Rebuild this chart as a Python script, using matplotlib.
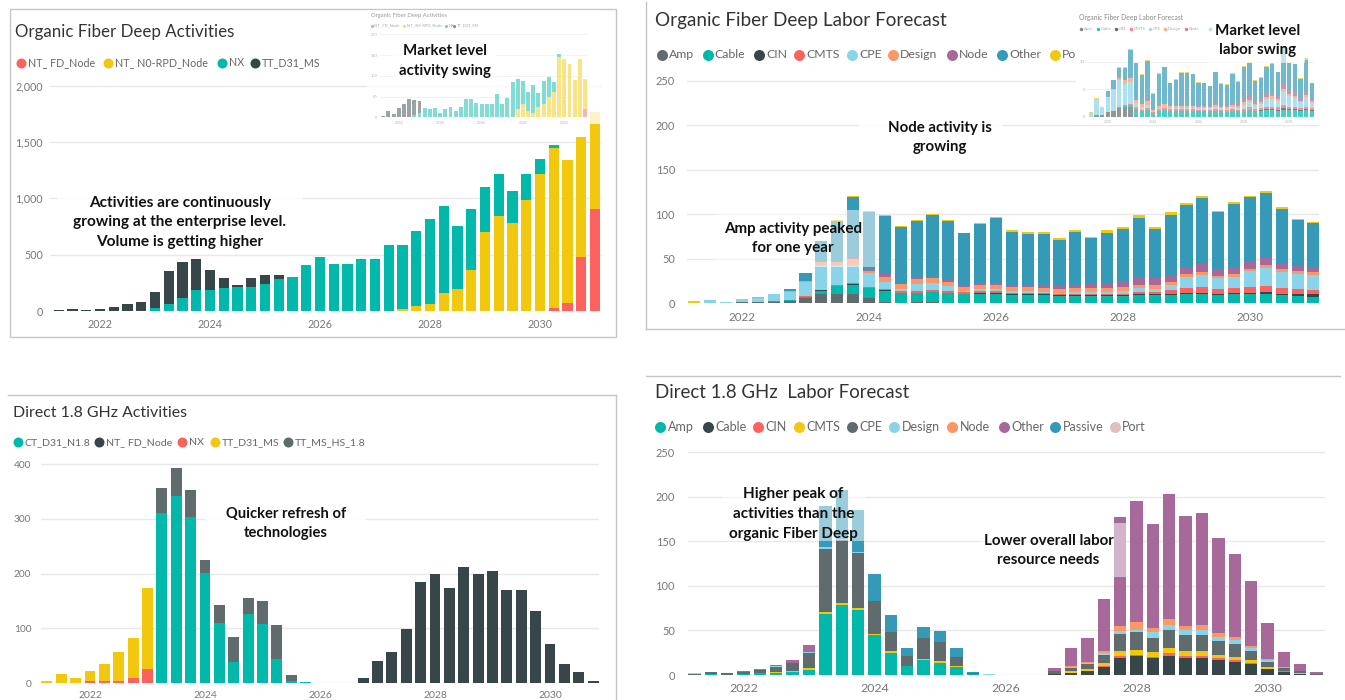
import numpy as np
import matplotlib
matplotlib.use("Agg")
import matplotlib.pyplot as plt
from matplotlib.patches import Rectangle
from matplotlib.lines import Line2D
from matplotlib.font_manager import FontProperties
from matplotlib.colors import to_rgb

# ======================= DATA =======================
def quarters(start_year, start_q, n):
    out = []
    y, q = start_year, start_q
    for _ in range(n):
        out.append(f"{y}-Q{q}")
        q += 1
        if q > 4:
            q = 1
            y += 1
    return out

Q40 = quarters(2021, 2, 40)
Q39 = quarters(2021, 2, 39)
year_ticks = [2022, 2024, 2026, 2028, 2030]

# --- Panel 1: Organic Fiber Deep Activities ---
p1_labels = ["NT_ FD_Node", "NT_ N0-RPD_Node", "NX", "TT_D31_MS"]
p1_nt_fd_node = [0, 0, 0, 0, 0, 0, 0, 0, 0, 0, 0, 0, 0, 0, 0, 0, 0, 0, 0, 0,
                 0, 0, 0, 0, 0, 0, 0, 0, 0, 0, 0, 0, 0, 0, 0, 0, 24, 74, 479, 905]
p1_nt_n0_rpd = [0, 0, 0, 0, 0, 0, 0, 0, 0, 0, 0, 0, 0, 0, 0, 0, 0, 0, 0, 0,
                0, 0, 0, 0, 0, 18, 41, 62, 157, 198, 361, 698, 843, 784, 982, 1219, 1423, 1266, 1068, 864]
p1_nx = [0, 0, 0, 0, 0, 0, 0, 24, 62, 118, 189, 186, 201, 210, 210, 237, 287, 305, 408, 476,
         417, 417, 459, 459, 589, 565, 672, 752, 778, 553, 547, 406, 373, 281, 234, 130, 23, 0, 0, 0]
p1_tt_d31_ms = [5, 15, 9, 20, 32, 59, 83, 148, 293, 314, 270, 181, 95, 21, 86, 83, 30, 0, 0, 0,
                0, 0, 0, 0, 0, 0, 0, 0, 0, 0, 0, 0, 0, 0, 0, 0, 0, 0, 0, 0]

# inset of panel 1 (market level)
in1_nt_fd_node = [0, 0, 0, 0, 0, 0, 0, 0, 0, 0, 0, 0, 0, 0, 0, 0, 0, 0, 0, 0,
                  0, 0, 0, 0, 0, 0, 0, 0, 0, 0, 0, 0, 0, 0, 0, 0, 0, 0, 0, 20]
in1_nt_n0_rpd = [0, 0, 0, 0, 0, 0, 0, 0, 0, 0, 0, 0, 0, 0, 0, 0, 0, 0, 0, 0,
                 0, 0, 0, 0, 0, 0, 20, 33, 14, 11, 26, 32, 50, 60, 145, 140, 129, 91, 140, 72]
in1_nx = [0, 0, 0, 0, 0, 0, 5, 10, 22, 19, 22.5, 10, 21, 26, 16, 24, 43, 43, 34, 33,
          32, 33, 56, 33, 46, 84, 73, 54, 48, 67, 33, 56, 47, 24, 7, 0, 0, 0, 0, 0]
in1_tt_d31_ms = [3, 15, 9, 22, 33, 44, 36, 29, 0, 0, 0, 0, 0, 0, 0, 0, 0, 0, 0, 0,
                 0, 0, 0, 0, 0, 0, 0, 0, 0, 0, 0, 0, 0, 0, 0, 0, 0, 0, 0, 0]

# --- Panel 2: Organic Fiber Deep Labor Forecast ---
p2_labels = ["Amp", "Cable", "CIN", "CMTS", "CPE", "Design", "Node", "Other", "Port"]
p2_amp = [0, 0.5, 0.5, 1, 1.5, 2, 3, 6, 10, 11, 10, 6, 1, 0, 1, 1, 0, 0, 0, 0,
          0, 0, 0, 0, 0, 0, 0, 0, 0, 0, 0, 0, 0, 0, 0, 0, 0, 0, 0, 0]
p2_cable = [0, 0, 0, 0, 0, 0.5, 1, 1, 4, 8, 11, 11, 13, 11.5, 11, 12, 12, 10, 11, 11,
            9, 9, 9, 8, 8, 8, 8, 8, 9, 9, 9, 10, 10, 9, 10, 10, 11, 9, 8, 7]
p2_cin = [0, 0, 0, 0, 0, 0, 0, 0, 0.5, 0.5, 0.5, 0.5, 0.5, 0, 0, 0, 0, 0.5, 0.5, 0.5,
          1, 1, 1, 1, 1, 1, 1, 1, 1, 1, 2, 2, 2, 2, 2, 2, 2, 2, 3, 3]
p2_cmts = [0, 0, 0, 0, 0, 0, 0, 1, 0.5, 1, 1, 1, 1.5, 2, 2, 2, 2, 2, 2, 2,
           2, 2, 2, 2, 2, 2, 2, 2, 3, 3, 4, 5, 6, 5, 5, 6, 6, 6, 5, 5]
p2_cpe = [0.5, 3, 1.5, 3.5, 5, 7.5, 9, 16, 28, 23, 21, 15, 8, 2.5, 8, 8, 5, 1, 2, 2,
          2, 2, 1, 1, 2, 2, 2, 3, 4, 3, 6, 13, 14, 12, 13, 18, 21, 18, 17, 17]
p2_design = [0, 0, 0, 0.5, 0.5, 0.5, 1, 1, 3, 3, 6, 3, 6, 6, 5, 5, 5, 5, 5, 5,
             4, 4, 4, 4, 4, 4, 4, 4, 4, 4, 3, 3, 3, 3, 3, 3, 3, 3, 3, 3]
p2_node = [0, 0, 0, 0, 0, 0, 0, 0, 1, 1, 1, 2, 3, 0.5, 2, 2, 2, 1, 2, 2,
           3, 3, 4, 3, 4, 5, 6, 7, 8, 8, 7, 8, 9, 7, 7, 8, 8, 6, 6, 6]
p2_other = [0, 0, 0, 0, 0, 0, 2, 9, 23, 45, 69, 64.5, 65, 63, 63, 69, 66, 59, 66, 73,
            59, 57, 57, 52, 59, 51, 56, 58, 67, 55, 68, 69, 74, 64, 72, 72, 73, 62, 52, 49]
p2_port = [2, 0, 0, 0, 0, 0, 0, 0, 0, 1, 1, 1, 1.5, 1, 1, 1, 1.5, 1, 1.5, 1.5,
           2, 2, 2, 2, 2, 2, 3, 3, 3, 3, 3, 3, 2, 2, 2, 2, 2, 2, 1, 1]

# inset of panel 2 (market level)
in2_labels = ["Amp", "Cable", "CIN", "CMTS", "CPE", "Design", "Node", "Other"]
in2_amp = [0, 0.3, 0.4, 0.8, 1.0, 1.5, 1.8, 1.7, 0.2, 0, 0, 0, 0, 0, 0, 0, 0, 0, 0, 0,
           0, 0, 0, 0, 0, 0, 0, 0, 0, 0, 0, 0, 0, 0, 0, 0, 0, 0, 0, 0]
in2_cable = [0, 0, 0, 0, 0, 0.2, 0.3, 0.4, 1.2, 1.0, 1.3, 0.6, 1.1, 1.3, 1.1, 1.1, 1.1, 1.1, 1.1, 1.0,
             1.0, 1.0, 1.1, 1.0, 0.9, 1.1, 1.0, 1.1, 1.2, 1.0, 1.0, 1.2, 1.2, 1.1, 1.3, 1.2, 1.2, 1.0, 1.2, 1.0]
in2_cin = [0, 0, 0, 0, 0, 0, 0, 0, 0, 0, 0, 0, 0, 0, 0, 0, 0, 0, 0, 0,
           0, 0, 0, 0, 0, 0, 0, 0, 0.1, 0.1, 0.2, 0.2, 0.2, 0.2, 0.3, 0.2, 0.2, 0.2, 0.2, 0.2]
in2_cmts = [0, 0, 0, 0, 0, 0, 0.1, 0.2, 0.3, 0.3, 0.3, 0.2, 0.3, 0.3, 0.3, 0.3, 0.3, 0.3, 0.3, 0.3,
            0.3, 0.3, 0.3, 0.3, 0.3, 0.3, 0.3, 0.3, 0.4, 0.3, 0.3, 0.4, 0.4, 0.4, 0.5, 0.4, 0.4, 0.4, 0.4, 0.3]
in2_cpe = [0.7, 3.0, 1.3, 2.7, 3.8, 5.0, 3.8, 4.0, 0.8, 0.5, 0.6, 0.2, 0.2, 0.2, 0.2, 0.2, 0.2, 0.2, 0.2, 0.2,
           0.2, 0.2, 0.3, 0.2, 0.2, 0.3, 0.3, 0.8, 1.0, 0.6, 0.8, 1.4, 1.5, 1.2, 2.5, 2.0, 1.6, 1.0, 1.8, 1.0]
in2_design = [0, 0, 0, 0, 0.2, 0.3, 0.6, 0.8, 0.6, 0.5, 0.7, 0.3, 0.4, 0.5, 0.4, 0.4, 0.4, 0.4, 0.4, 0.3,
              0.3, 0.3, 0.4, 0.3, 0.3, 0.4, 0.3, 0.4, 0.4, 0.3, 0.3, 0.4, 0.4, 0.3, 0.5, 0.4, 0.4, 0.3, 0.4, 0.3]
in2_node = [0, 0, 0, 0, 0, 0, 0, 0.1, 0.1, 0.1, 0.1, 0.1, 0.1, 0.1, 0.1, 0.1, 0.2, 0.2, 0.2, 0.2,
            0.2, 0.2, 0.3, 0.3, 0.3, 0.4, 0.4, 0.5, 0.6, 0.5, 0.5, 0.6, 0.7, 0.6, 0.8, 0.7, 0.7, 0.5, 0.6, 0.4]
in2_other = [0, 0, 0, 1.1, 1.6, 1.9, 2.3, 5.0, 6.5, 5.2, 7.2, 2.8, 5.7, 6.6, 4.0, 4.6, 5.8, 5.8, 5.5, 4.2,
             4.1, 3.5, 5.7, 3.9, 3.8, 5.3, 4.1, 6.0, 6.1, 3.7, 4.0, 4.9, 5.2, 4.3, 6.8, 4.9, 5.0, 3.5, 5.8, 2.9]
in2_port = [0.2, 0.1, 0.1, 0.1, 0.1, 0.1, 0.1, 0.1, 0.1, 0.1, 0.1, 0.1, 0.1, 0.1, 0.1, 0.1, 0.1, 0.1, 0.1, 0.1,
            0.1, 0.1, 0.1, 0.1, 0.1, 0.1, 0.1, 0.1, 0.2, 0.1, 0.1, 0.1, 0.2, 0.1, 0.2, 0.1, 0.1, 0.1, 0.2, 0.1]

# --- Panel 3: Direct 1.8 GHz Activities ---
p3_labels = ["CT_D31_N1.8", "NT_ FD_Node", "NX", "TT_D31_MS", "TT_MS_HS_1.8"]
p3_ct_d31_n18 = [0, 0, 0, 0, 0, 0, 0, 0, 311, 342, 303, 201, 110, 38, 126, 109, 45, 4, 2.4, 0,
                 0, 0, 0, 0, 0, 0, 0, 0, 0, 0, 0, 0, 0, 0, 0, 0, 0, 0, 0]
p3_nt_fd_node = [0, 0, 0, 0, 0, 0, 0, 0, 0, 0, 0, 0, 0, 0, 0, 0, 0, 0, 0, 0,
                 0, 0, 10, 41, 57, 99, 185, 199, 174, 213, 200, 205, 170, 171, 131, 72, 36, 21, 5]
p3_nx = [0, 0, 0, 3.6, 4, 3.6, 10, 25.5, 0, 0, 0, 0, 0, 0, 0, 0, 0, 0, 0, 0,
         0, 0, 0, 0, 0, 0, 0, 0, 0, 0, 0, 0, 0, 0, 0, 0, 0, 0, 0]
p3_tt_d31_ms = [4, 17, 10, 19, 31, 53, 72, 147.5, 0, 0, 0, 0, 0, 0, 0, 0, 0, 0, 0, 0,
                0, 0, 0, 0, 0, 0, 0, 0, 0, 0, 0, 0, 0, 0, 0, 0, 0, 0, 0]
p3_tt_ms_hs_18 = [0, 0, 0, 0, 0, 0, 0, 0, 46, 51, 50, 23, 33, 46, 30, 42, 61, 10.6, 0, 0,
                  0, 0, 0, 0, 0, 0, 0, 0, 0, 0, 0, 0, 0, 0, 0, 0, 0, 0, 0]

# --- Panel 4: Direct 1.8 GHz Labor Forecast ---
p4_labels = ["Amp", "Cable", "CIN", "CMTS", "CPE", "Design", "Node", "Other", "Passive", "Port"]
p4_amp = [0.5, 1, 0, 1.5, 2, 2.5, 3.5, 6, 69, 78.6, 73, 45, 25, 10, 16.5, 14, 9.4, 1, 0, 0,
          0, 0, 0, 0, 0, 0, 0, 0, 0, 0, 0, 0, 0, 0, 0, 0, 0, 0, 0]
p4_cable = [0, 0.5, 0.5, 0, 0, 0, 0, 0, 0, 0, 0, 0, 0, 0, 0, 0, 0, 0, 0, 0,
            0, 0, 1, 2.6, 4, 9, 19, 21, 18.7, 21.7, 19.5, 19.5, 16.8, 15, 12, 6.4, 3.7, 1.5, 0.5]
p4_cin = [0, 0, 0, 0, 0, 0, 0, 0, 0, 0, 0, 0, 0, 0, 0, 0, 0, 0, 0, 0,
          0, 0, 0, 0, 0, 1, 2, 2, 2, 2.6, 2.2, 2, 1.9, 1.5, 1, 0.7, 0.3, 0, 0]
p4_cmts = [0, 0, 0, 0, 0, 0.5, 1, 2, 2, 1.9, 2, 1.4, 1.6, 0, 1.5, 1.7, 0.6, 0, 0, 0,
           0, 0, 0.5, 2.2, 2.5, 3, 6, 5, 4.7, 5.7, 5.3, 5.8, 3.8, 4.1, 3.8, 1.5, 0.9, 1, 0]
p4_cpe = [0.5, 2, 1.5, 2, 3.5, 6.5, 8.5, 17, 71, 71.5, 61.6, 37, 21.4, 11.7, 23, 21.7, 10.6, 1.5, 0, 0,
          0, 0, 2.5, 3.4, 6, 10, 18.7, 20.6, 16.6, 20.5, 18, 17.7, 16, 14.2, 10.2, 6.4, 2.6, 2, 1]
p4_design = [0, 0, 0, 0, 0, 0.5, 1, 1, 1.5, 1, 1.1, 0, 0, 0, 0, 0, 0, 0, 0.6, 0,
             0, 0, 0, 1, 1, 2, 3.7, 2, 6, 5.5, 5, 5.5, 4.5, 4.5, 3, 1.5, 0.7, 0, 0]
p4_node = [0, 0, 0, 0, 0, 0, 0, 0, 0, 0, 0, 0, 0, 0, 0, 0, 0, 0, 0, 0,
           0, 0, 0, 0.5, 1, 2, 6, 9.4, 4.4, 6.5, 5.4, 5.5, 4.5, 3.7, 3, 1.5, 0.5, 0.5, 0]
p4_other = [0, 0, 0, 1, 1.2, 1, 2.5, 8, 0, 0, 0, 0, 0, 0, 0, 0, 0, 0, 0, 0,
            0, 0, 3.5, 21, 27.5, 58, 121.6, 135, 117.6, 140.5, 122.6, 126, 106, 92.5, 73, 40, 16.7, 7.3, 1.9]
p4_passive = [0, 0, 0, 0, 0, 0, 0, 0, 46.5, 55, 48, 30.5, 19, 9, 13, 12, 9.4, 1.2, 0, 0,
              0, 0, 0, 0, 0, 0, 0, 0, 0, 0, 0, 0, 0, 0, 0, 0, 0, 0, 0]
p4_port = [1.5, 0, 0, 0, 0, 0, 0, 0, 0, 0, 0, 0, 0, 0, 0, 0, 0, 0, 0, 0,
           0, 0, 0, 0, 0, 0, 0, 0, 0, 0, 0, 0, 0, 0, 0, 0, 0, 0, 0]

# ======================= STYLE =======================
TEAL, DARK, RED, YELLOW = '#01B8AA', '#374649', '#FD625E', '#F2C80F'
GRAY, LBLUE, ORANGE, PURPLE, BLUE, PINK = '#5F6B6D', '#8AD4EB', '#FE9666', '#A66999', '#3599B8', '#DFBFBF'
p1_colors = [RED, YELLOW, TEAL, DARK]
p2_colors = [GRAY, TEAL, DARK, RED, LBLUE, ORANGE, PURPLE, BLUE, YELLOW]
p3_colors = [TEAL, DARK, RED, YELLOW, GRAY]
p4_colors = [TEAL, DARK, RED, YELLOW, GRAY, LBLUE, ORANGE, PURPLE, BLUE, PINK]

W, H = 1345, 700
FAM = ['Lato', 'DejaVu Sans']
plt.rcParams['font.family'] = FAM
fig = plt.figure(figsize=(W / 100, H / 100), dpi=100)
fig.patch.set_facecolor('white')
R = fig.canvas.get_renderer()

TITLE_C = '#333333'
LEG_C = '#666666'
TICK_C = '#777777'
GRID_C = '#e8e8e8'
BORDER_C = '#c6c6c6'


def qpos(labels):
    return np.array([int(s[:4]) + (int(s[-1]) - 1) / 4 for s in labels])


def wash(c, f):
    r = np.array(to_rgb(c))
    return tuple(r * (1 - f) + f)


def fitsize(s, width, weight='normal'):
    fp = FontProperties(family=FAM, size=10, weight=weight)
    w, _, _ = R.get_text_width_height_descent(s, fp, ismath=False)
    return 10 * width / w


def ftext(x, y, s, size, color, ha='left', va='center', weight='normal', z=6):
    return fig.text(x / W, 1 - y / H, s, fontsize=size, color=color, ha=ha, va=va,
                    fontweight=weight, zorder=z)


def frect(x0, y0, x1, y1, fc='white', ec='none', alpha=1.0, z=3, lw=1.0):
    fig.add_artist(Rectangle((x0 / W, 1 - y1 / H), (x1 - x0) / W, (y1 - y0) / H,
                             transform=fig.transFigure, facecolor=fc, edgecolor=ec,
                             alpha=alpha, zorder=z, linewidth=lw))


def fline(xs, ys, color=BORDER_C, lw=1.0, z=0.5):
    fig.add_artist(Line2D([x / W for x in xs], [1 - y / H for y in ys],
                          transform=fig.transFigure, color=color, lw=lw, zorder=z))


def legend(items, colors, xs, y, size, dot_px, gap, color=LEG_C, z=6, clip_right=None):
    for lab, c, x in zip(items, colors, xs):
        fig.add_artist(Line2D([x / W], [1 - y / H], transform=fig.transFigure, marker='o',
                              markersize=dot_px * 0.72, color=c, markeredgewidth=0,
                              linestyle='none', zorder=z))
        t = ftext(x + gap, y, lab, size, color, z=z)
        if clip_right is not None and x + gap + 8 > clip_right:
            clip = Rectangle((0, 0), clip_right / W, 1, transform=fig.transFigure)
            t.set_clip_path(clip)
            t.set_clip_on(True)


def make_ax(xmap, ymap, xlim, ylim, z=1):
    (xv0, xp0), (xv1, xp1) = xmap
    (yv0, yp0), (yv1, yp1) = ymap
    sx = (xp1 - xp0) / (xv1 - xv0)
    sy = (yp0 - yp1) / (yv1 - yv0)
    left = xp0 + (xlim[0] - xv0) * sx
    right = xp0 + (xlim[1] - xv0) * sx
    bot = yp0 - (ylim[0] - yv0) * sy
    top = yp0 - (ylim[1] - yv0) * sy
    ax = fig.add_axes([left / W, 1 - bot / H, (right - left) / W, (bot - top) / H], zorder=z)
    ax.set_xlim(xlim)
    ax.set_ylim(ylim)
    ax.set_facecolor('none')
    for s in ax.spines.values():
        s.set_visible(False)
    return ax


def style(ax, yticks, yfmt, xsize, ysize, xpad_px, ypad_px, color=TICK_C, grid=GRID_C, glw=1.0):
    ax.set_xticks(year_ticks)
    ax.set_xticklabels([str(t) for t in year_ticks])
    ax.set_yticks(yticks)
    ax.set_yticklabels([yfmt(v) for v in yticks])
    ax.tick_params(axis='x', length=0, labelsize=xsize, labelcolor=color, pad=xpad_px * 0.72)
    ax.tick_params(axis='y', length=0, labelsize=ysize, labelcolor=color, pad=ypad_px * 0.72)
    ax.yaxis.grid(True, color=grid, lw=glw)
    ax.set_axisbelow(True)


def stack(ax, x, series, colors, width=0.19):
    bottom = np.zeros(len(x))
    for v, c in zip(series, colors):
        v = np.asarray(v, float)
        ax.bar(x, v, width=width, bottom=bottom, color=c, linewidth=0, zorder=2)
        bottom += v


def annot(lines, cx, ys, fit_line, fit_w, z=5):
    s = fitsize(fit_line, fit_w, 'bold')
    for t, y in zip(lines, ys):
        ftext(cx, y, t, s, '#111111', ha='center', weight='bold', z=z)


x40 = qpos(Q40)
x39 = qpos(Q39)

# ======================= PANEL 1 =======================
frect(10, 9, 616, 337, fc='none', ec=BORDER_C, z=0.5)
ftext(15, 32.3, "Organic Fiber Deep Activities", fitsize("Organic Fiber Deep Activities", 219), TITLE_C)
legend(p1_labels, p1_colors, [21, 108, 222, 255], 62.7, fitsize("TT_D31_MS", 58.7), 10, 6.7)
ax1 = make_ax(((2022, 100), (2030, 540)), ((0, 311), (2000, 85.7)), (2021.1, 2031.12), (0, 2010))
stack(ax1, x40, [p1_nt_fd_node, p1_nt_n0_rpd, p1_nx, p1_tt_d31_ms], p1_colors)
style(ax1, [0, 500, 1000, 1500, 2000], lambda v: f"{v:,}",
      fitsize("2022", 24.7), fitsize("2,000", 27.4), 7.5, 7.5)

# inset 1
frect(367, 10, 601, 124, fc='white', alpha=0.78, z=2)
axi1 = make_ax(((2022, 398.8), (2030, 564.3)), ((0, 117.3), (200, 34.3)), (2021.1, 2031.1), (0, 200), z=3)
stack(axi1, x40, [in1_nt_fd_node, in1_nt_n0_rpd, in1_nx, in1_tt_d31_ms],
      [wash(c, 0.5) for c in p1_colors])
style(axi1, [0, 50, 100, 150, 200], lambda v: f"{v}",
      fitsize("2022", 8.7), fitsize("200", 6.7), 3.5, 3.0, color='#b0b0b0', grid='#f0f0f0', glw=0.6)
ftext(371, 15, "Organic Fiber Deep Activities", fitsize("Organic Fiber Deep Activities", 75.7), '#999999', z=3.5)
legend(p1_labels, [wash(c, 0.4) for c in p1_colors], [371.7, 404.3, 446.3, 454.3], 25.7,
       fitsize("NT_ N0-RPD_Node", 36), 3.2, 2.5, color='#aaaaaa', z=3.5)
frect(393, 38, 497, 82, fc='white', alpha=0.85, z=4)
annot(["Market level", "activity swing"], 445, [50.7, 70.7], "activity swing", 92)

frect(57, 188, 303, 254, fc='white', alpha=0.9, z=4)
annot(["Activities are continuously", "growing at the enterprise level.", "Volume is getting higher"],
      180, [202.7, 222.3, 241.7], "growing at the enterprise level.", 214)

# ======================= PANEL 2 =======================
fline([646, 646], [2, 329])
fline([646, 1345], [329, 329])
ftext(655, 20.7, "Organic Fiber Deep Labor Forecast", fitsize("Organic Fiber Deep Labor Forecast", 291), TITLE_C)
legend(p2_labels, p2_colors, [661.5, 707.5, 759, 799, 852, 893, 952, 1002, 1055], 55,
       fitsize("Other", 32), 11, 7.1, z=1.5)
ax2 = make_ax(((2022, 742), (2030, 1250)), ((0, 303.3), (250, 80.7)), (2021.14, 2031.09), (0, 252))
stack(ax2, x40, [p2_amp, p2_cable, p2_cin, p2_cmts, p2_cpe, p2_design, p2_node, p2_other, p2_port], p2_colors)
style(ax2, [0, 50, 100, 150, 200, 250], lambda v: f"{v}",
      fitsize("2022", 27), fitsize("250", 19.2), 8.5, 12.4)

# inset 2
frect(1076, 3, 1322, 125, fc='white', alpha=1.0, z=2)
axi2 = make_ax(((2022, 1107.7), (2030, 1289.1)), ((0, 116.7), (10, 61.7)), (2021.1, 2031.1), (0, 13.6), z=3)
stack(axi2, x40, [in2_amp, in2_cable, in2_cin, in2_cmts, in2_cpe, in2_design, in2_node, in2_other, in2_port],
      [wash(c, 0.3) for c in p2_colors])
style(axi2, [0, 5, 10], lambda v: f"{v}",
      fitsize("2022", 8.3), fitsize("10", 4.8), 3.5, 2.5, color='#b0b0b0', grid='#f0f0f0', glw=0.6)
ftext(1079, 17.7, "Organic Fiber Deep Labor Forecast", fitsize("Organic Fiber Deep Labor Forecast", 104), '#888888', z=3.5)
legend(in2_labels, [wash(c, 0.2) for c in p2_colors[:8]],
       [1080.7, 1097.7, 1116.3, 1131, 1150, 1165, 1186, 1210], 29.3,
       fitsize("Design", 13.3), 3.5, 2.8, color='#aaaaaa', z=3.5, clip_right=1214)
frect(1208, 20, 1305, 63, fc='white', alpha=0.6, z=4)
annot(["Market level", "labor swing"], 1257.5, [30.7, 50], "Market level", 85)

frect(859, 113, 1002, 160, fc='white', alpha=0.9, z=4)
annot(["Node activity is", "growing"], 939.6, [127.7, 147.3], "Node activity is", 104.5)
frect(715, 210, 876, 267, fc='white', alpha=0.5, z=4)
annot(["Amp activity peaked", "for one year"], 793, [229, 248.3], "Amp activity peaked", 138)

# ======================= PANEL 3 =======================
fline([8, 616], [395, 395])
fline([616, 616], [395, 700])
ftext(13, 412.7, "Direct 1.8 GHz Activities", fitsize("Direct 1.8 GHz Activities", 173), TITLE_C)
legend(p3_labels, p3_colors, [17.6, 99, 182, 214.6, 287.8], 442.3,
       fitsize("TT_MS_HS_1.8", 70.5), 10, 7)
ax3 = make_ax(((2022, 90), (2030, 550)), ((0, 683.3), (400, 464)), (2021.15, 2030.86), (0, 403))
stack(ax3, x39, [p3_ct_d31_n18, p3_nt_fd_node, p3_nx, p3_tt_d31_ms, p3_tt_ms_hs_18], p3_colors)
style(ax3, [0, 100, 200, 300, 400], lambda v: f"{v}",
      fitsize("2022", 24.3), fitsize("400", 17.6), 7.3, 9.8)
frect(205, 497, 366, 547, fc='white', alpha=0.9, z=4)
annot(["Quicker refresh of", "technologies"], 285.8, [514, 533.3], "Quicker refresh of", 120.6)

# ======================= PANEL 4 =======================
fline([646, 1340], [375.7, 375.7])
ftext(655, 392.3, "Direct 1.8 GHz  Labor Forecast", fitsize("Direct 1.8 GHz  Labor Forecast", 254), TITLE_C)
legend(p4_labels, p4_colors, [660, 707.5, 758, 799, 852, 894, 952, 1003.5, 1055, 1114.5], 427.3,
       fitsize("Passive", 40.5), 11, 7.6)
ax4 = make_ax(((2022, 743.5), (2030, 1267.5)), ((0, 675), (250, 452.3)), (2021.15, 2030.88), (0, 252))
stack(ax4, x39, [p4_amp, p4_cable, p4_cin, p4_cmts, p4_cpe, p4_design, p4_node, p4_other, p4_passive, p4_port],
      p4_colors)
style(ax4, [0, 50, 100, 150, 200, 250], lambda v: f"{v}",
      fitsize("2022", 28.8), fitsize("250", 19.3), 8.1, 12.8)
frect(722, 483, 866, 541, fc='white', alpha=0.5, z=4)
annot(["Higher peak of", "activities than the", "organic Fiber Deep"], 793.4, [494.3, 514, 533.7],
      "activities than the", 122)
frect(980, 523, 1126, 577, fc='white', alpha=0.5, z=4)
annot(["Lower overall labor", "resource needs"], 1048.5, [540.7, 560.3], "Lower overall labor", 130)

fig.savefig("out.png", dpi=100, facecolor='white')
